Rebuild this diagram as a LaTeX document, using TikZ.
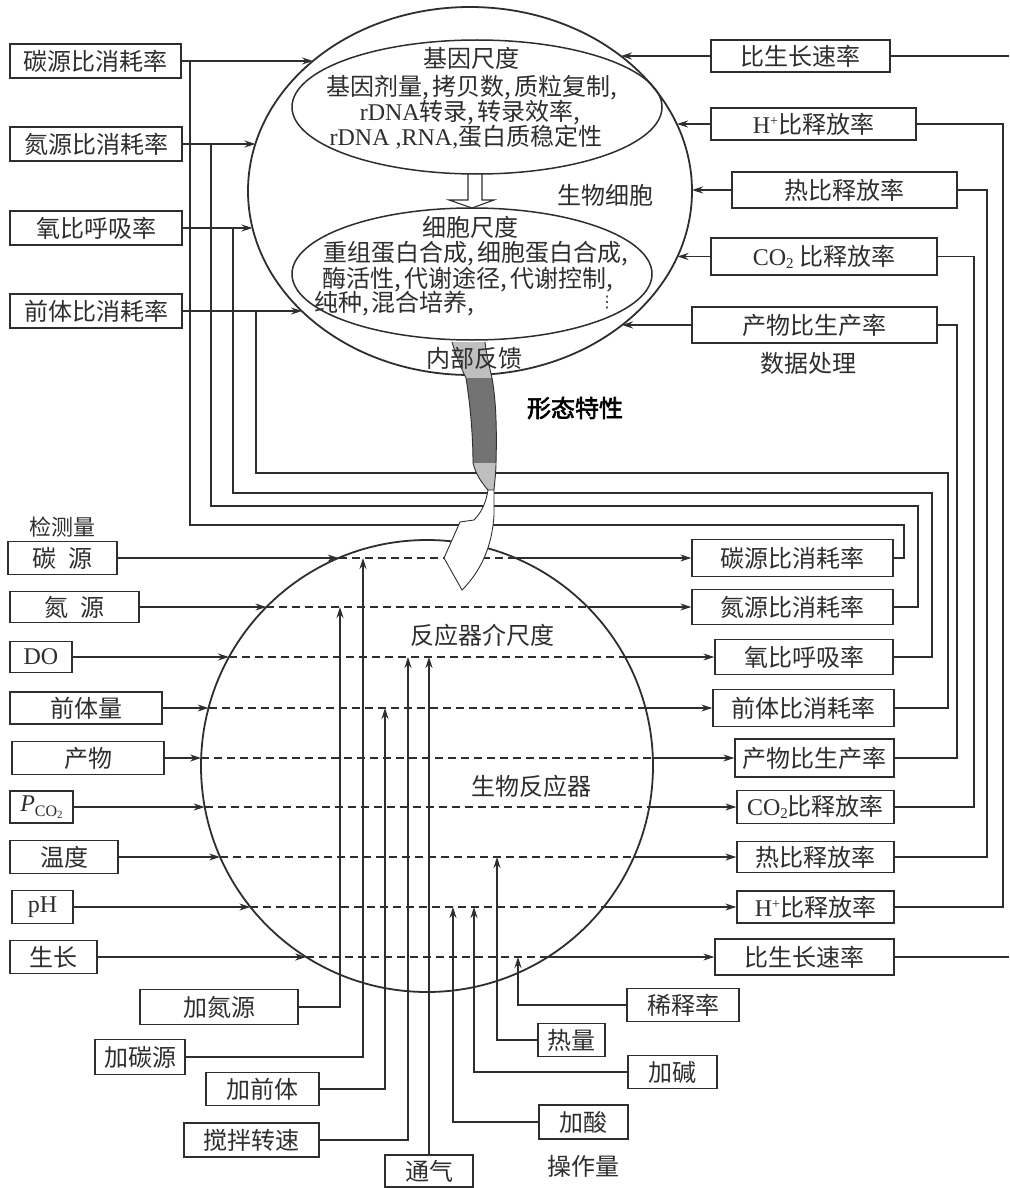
\documentclass[tikz,border=0pt]{standalone}
\usepackage{fontspec}
\setmainfont{Noto Sans CJK SC}
\newfontfamily\lat{Liberation Serif}
\newfontfamily\djv{DejaVu Sans}
\newfontfamily\bcjk{Noto Sans CJK SC}[FakeBold=2.5]
\usetikzlibrary{arrows.meta,shapes.geometric}
\colorlet{ink}{black!82}
\tikzset{
  box/.style={draw=ink, line width=1.3pt, inner sep=0pt, text=ink, font=\fontsize{24}{26}\selectfont},
  lbl/.style={text=ink, inner sep=0pt, font=\fontsize{24}{26}\selectfont},
  ln/.style={draw=ink, line width=1.2pt},
  arr/.style={ln, -{Stealth[length=11pt,width=7pt]}},
  dsh/.style={ln, dash pattern=on 8pt off 5pt},
  big/.style={draw=ink, line width=1.8pt, ellipse, inner sep=0pt},
}
\newcommand{\COtwo}{{\lat CO\raisebox{-3pt}{\fontsize{15}{15}\selectfont 2}}}
\newcommand{\Hplus}{{\lat H\raisebox{8pt}{\fontsize{14}{14}\selectfont +}}}
\begin{document}
\begin{tikzpicture}[x=1pt,y=-1pt]
\fill[white] (0,0) rectangle (1009,1188);
\useasboundingbox (0,0) rectangle (1009,1188);

% ---------- cell ellipses ----------
\node[big, minimum width=444pt, minimum height=368pt] (cell) at (470,191) {};
\node[big, line width=1.5pt, minimum width=370pt, minimum height=134pt] (gene) at (477,107) {};
\node[big, line width=1.5pt, minimum width=360pt, minimum height=132pt] (cscale) at (472,274) {};
\draw[ink, line width=1.1pt] (468,174) -- (468,200) -- (449,200) -- (472,208) -- (494,200) -- (482,200) -- (482,174);

\node[lbl] (g0) at (471,58) {基因尺度};
\node[lbl] (g1) at (472,88) {基因剂量,\hspace{3pt}拷贝数,\hspace{3pt}质粒复制,};
\node[lbl] (g2) at (470,113) {{\lat rDNA}转录,\hspace{3pt}转录效率,};
\node[lbl] (g3) at (466,137) {{\lat rDNA ,RNA,}蛋白质稳定性};
\node[lbl] (c0) at (470,227) {细胞尺度};
\node[lbl] (c1) at (476,254) {重组蛋白合成,\hspace{3pt}细胞蛋白合成,};
\node[lbl] (c2) at (468,280) {酶活性,\hspace{3pt}代谢途径,\hspace{3pt}代谢控制,};
\node[lbl, anchor=west] (c3) at (314,304) {纯种,\hspace{3pt}混合培养,};
\node[text=ink, inner sep=0pt, font=\djv\fontsize{16}{16}\selectfont] (c4) at (607,303) {⋮};
\node[lbl] (bio) at (605,195) {生物细胞};

% ---------- top-left boxes ----------
\node[box, minimum width=171pt, minimum height=34pt] (L1) at (95.5,61) {碳源比消耗率};
\node[box, minimum width=172pt, minimum height=34pt] (L2) at (96,144) {氮源比消耗率};
\node[box, minimum width=172pt, minimum height=34pt] (L3) at (96,228) {氧比呼吸率};
\node[box, minimum width=172pt, minimum height=34pt] (L4) at (96,311) {前体比消耗率};

% ---------- top-right boxes ----------
\node[box, minimum width=179pt, minimum height=32pt] (R1) at (800.5,56) {比生长速率};
\node[box, minimum width=205pt, minimum height=32pt] (R2) at (813.5,124) {\Hplus 比释放率};
\node[box, minimum width=225pt, minimum height=36pt] (R3) at (844.5,190) {热比释放率};
\node[box, minimum width=226pt, minimum height=37pt] (R4) at (824,256.5) {\COtwo\ 比释放率};
\node[box, minimum width=245pt, minimum height=36pt] (R5) at (814.5,325) {产物比生产率};
\node[lbl] (dp) at (808,363) {数据处理};

% ---------- reactor ----------
\node[big, circle, minimum size=452pt] (reactor) at (427,766) {};
\node[lbl] (meso) at (482,635) {反应器介尺度};
\node[lbl] (brx) at (531,786) {生物反应器};

% lower-left boxes
\node[lbl, font=\fontsize{22}{24}\selectfont] (det) at (62,527) {检测量};
\node[box, minimum width=109pt, minimum height=33pt] (B1) at (62.5,558) {碳\hspace{12pt}源};
\node[box, minimum width=129pt, minimum height=31pt] (B2) at (74.5,607) {氮\hspace{12pt}源};
\node[box, minimum width=62pt, minimum height=31pt] (B3) at (41,657) {\lat DO};
\node[box, minimum width=152pt, minimum height=32pt] (B4) at (86,708) {前体量};
\node[box, minimum width=152pt, minimum height=33pt] (B5) at (88,758) {产物};
\node[box, minimum width=63pt, minimum height=32pt] (B6) at (41.5,807) {{\lat\itshape P}\raisebox{-5pt}{\lat\fontsize{16}{16}\selectfont CO\raisebox{-2pt}{\fontsize{11}{11}\selectfont 2}}};
\node[box, minimum width=108pt, minimum height=33pt] (B7) at (64,857) {温度};
\node[box, minimum width=61pt, minimum height=33pt] (B8) at (42.5,907) {\lat pH};
\node[box, minimum width=87pt, minimum height=33pt] (B9) at (53.5,957) {生长};

% lower-right boxes
\node[box, minimum width=201pt, minimum height=37pt] (C1) at (792.5,558) {碳源比消耗率};
\node[box, minimum width=201pt, minimum height=35pt] (C2) at (792.5,607) {氮源比消耗率};
\node[box, minimum width=178pt, minimum height=35pt] (C3) at (804,657) {氧比呼吸率};
\node[box, minimum width=181pt, minimum height=37pt] (C4) at (803.5,708) {前体比消耗率};
\node[box, minimum width=159pt, minimum height=38pt] (C5) at (814.5,758) {产物比生产率};
\node[box, minimum width=157pt, minimum height=33pt] (C6) at (815.5,807) {\COtwo 比释放率};
\node[box, minimum width=157pt, minimum height=31pt] (C7) at (815.5,857) {热比释放率};
\node[box, minimum width=157pt, minimum height=32pt] (C8) at (815.5,907) {\Hplus 比释放率};
\node[box, minimum width=179pt, minimum height=36pt] (C9) at (804.5,957) {比生长速率};

% bottom boxes
\node[box, minimum width=158pt, minimum height=35pt] (D1) at (219,1007) {加氮源};
\node[box, minimum width=90pt, minimum height=35pt] (D2) at (140,1057) {加碳源};
\node[box, minimum width=113pt, minimum height=33pt] (D3) at (262.5,1089) {加前体};
\node[box, minimum width=135pt, minimum height=34pt] (D4) at (251.5,1140) {搅拌转速};
\node[box, minimum width=88pt, minimum height=32pt] (D5) at (429,1171) {通气};
\node[box, minimum width=89pt, minimum height=34pt] (D6) at (583.5,1122) {加酸};
\node[box, minimum width=89pt, minimum height=33pt] (D7) at (672.5,1072) {加碱};
\node[box, minimum width=67pt, minimum height=33pt] (D8) at (571.5,1040) {热量};
\node[box, minimum width=112pt, minimum height=33pt] (D9) at (683,1005) {稀释率};
\node[lbl] (op) at (583,1166) {操作量};

% ---------- coordinates on ellipse / circle ----------
\coordinate (a1) at (313,61);
\coordinate (a2) at (255.5,144);
\coordinate (a3) at (252.5,228);
\coordinate (a4) at (302,311);
\coordinate (b1) at (621,56);
\coordinate (b2) at (677,124);
\coordinate (b3) at (692,190);
\coordinate (b4) at (677.5,256.5);
\coordinate (b5) at (622,325);
\coordinate (j1) at (190,61);
\coordinate (j2) at (211,144);
\coordinate (j3) at (233,228);
\coordinate (j4) at (256,311);
\coordinate (e1) at (1009,56);
\coordinate (e2) at (1009,957);
\coordinate (l1) at (338.6,558);  \coordinate (r1) at (515.4,558);
\coordinate (l2) at (266.4,607);  \coordinate (r2) at (587.6,607);
\coordinate (l3) at (229,657);    \coordinate (r3) at (625,657);
\coordinate (l4) at (208.6,708);  \coordinate (r4) at (645.4,708);
\coordinate (l5) at (201.1,758);  \coordinate (r5) at (652.9,758);
\coordinate (l6) at (204.7,807);  \coordinate (r6) at (649.3,807);
\coordinate (l7) at (220.1,857);  \coordinate (r7) at (633.9,857);
\coordinate (l8) at (250.4,907);  \coordinate (r8) at (603.6,907);
\coordinate (l9) at (306.2,957);  \coordinate (r9) at (547.8,957);

% ---------- connectors: top ----------
\draw[arr] (L1.east) -- (a1);
\draw[arr] (L2.east) -- (a2);
\draw[arr] (L3.east) -- (a3);
\draw[arr] (L4.east) -- (a4);
\draw[arr] (R1.west) -- (b1);
\draw[arr] (R2.west) -- (b2);
\draw[arr] (R3.west) -- (b3);
\draw[arr] (R4.west) -- (b4);
\draw[arr] (R5.west) -- (b5);
\draw[ln] (R1.east) -- (e1);

% ---------- connectors: reactor rows ----------
\foreach \i in {1,...,9} {
  \draw[arr] (B\i.east) -- (l\i);
  \draw[dsh] (l\i) -- (r\i);
  \draw[arr] (r\i) -- (C\i.west);
}

% ---------- feedback loops ----------
\draw[ln] (C1.east) -| (904,525) -| (j1);
\draw[ln] (C2.east) -| (918,506) -| (j2);
\draw[ln] (C3.east) -| (932,493) -| (j3);
\draw[ln] (C4.east) -| (948,473) -| (j4);
\draw[ln] (C5.east) -| (957,325) -- (R5.east);
\draw[ln] (C6.east) -| (974,256.5) -- (R4.east);
\draw[ln] (C7.east) -| (987,190) -- (R3.east);
\draw[ln] (C8.east) -| (1003,124) -- (R2.east);
\draw[ln] (C9.east) -- (e2);

% ---------- operating inputs ----------
\draw[arr] (D1.east) -| (340,607);
\draw[arr] (D2.east) -| (363,558);
\draw[arr] (D3.east) -| (385,708);
\draw[arr] (D4.east) -| (408,657);
\draw[arr] (D5.north) -- (429,657);
\draw[arr] (D6.west) -| (453,907);
\draw[arr] (D7.west) -| (474,907);
\draw[arr] (D8.west) -| (497,857);
\draw[arr] (D9.west) -| (518,957);

% ---------- twisted feedback arrow ----------
\fill[black!25] (452,342) .. controls (456,355) and (461,368) .. (466,378) -- (492,378) .. controls (489,365) and (486,352) .. (485,342) -- cycle;
\fill[black!55] (466,378) .. controls (471,410) and (473,440) .. (473,463) -- (496,463) .. controls (497,430) and (496,400) .. (492,378) -- cycle;
\fill[black!25] (473,463) .. controls (476,475) and (482,483) .. (488,490) -- (494,490) .. controls (495,480) and (496,470) .. (496,463) -- cycle;
\draw[ink, line width=0.9pt] (452,342) .. controls (456,355) and (461,368) .. (466,378) .. controls (471,410) and (473,440) .. (473,463) .. controls (476,475) and (482,483) .. (488,490);
\draw[ink, line width=0.9pt] (485,342) .. controls (486,352) and (489,365) .. (492,378) .. controls (496,400) and (497,430) .. (496,463) .. controls (496,470) and (495,480) .. (494,490);
\filldraw[fill=white, draw=ink, line width=0.9pt] (488,490) .. controls (486,502) and (482,512) .. (474,520) -- (460,522) -- (444,558) -- (462,590) .. controls (480,572) and (492,548) .. (494,515) .. controls (494,505) and (494,497) .. (494,490) -- cycle;
\node[lbl] (fb) at (474,358) {内部反馈};
\node[inner sep=0pt, text=black, font=\bcjk\fontsize{24}{26}\selectfont] (morph) at (575,408) {形态特性};
\end{tikzpicture}
\end{document}
